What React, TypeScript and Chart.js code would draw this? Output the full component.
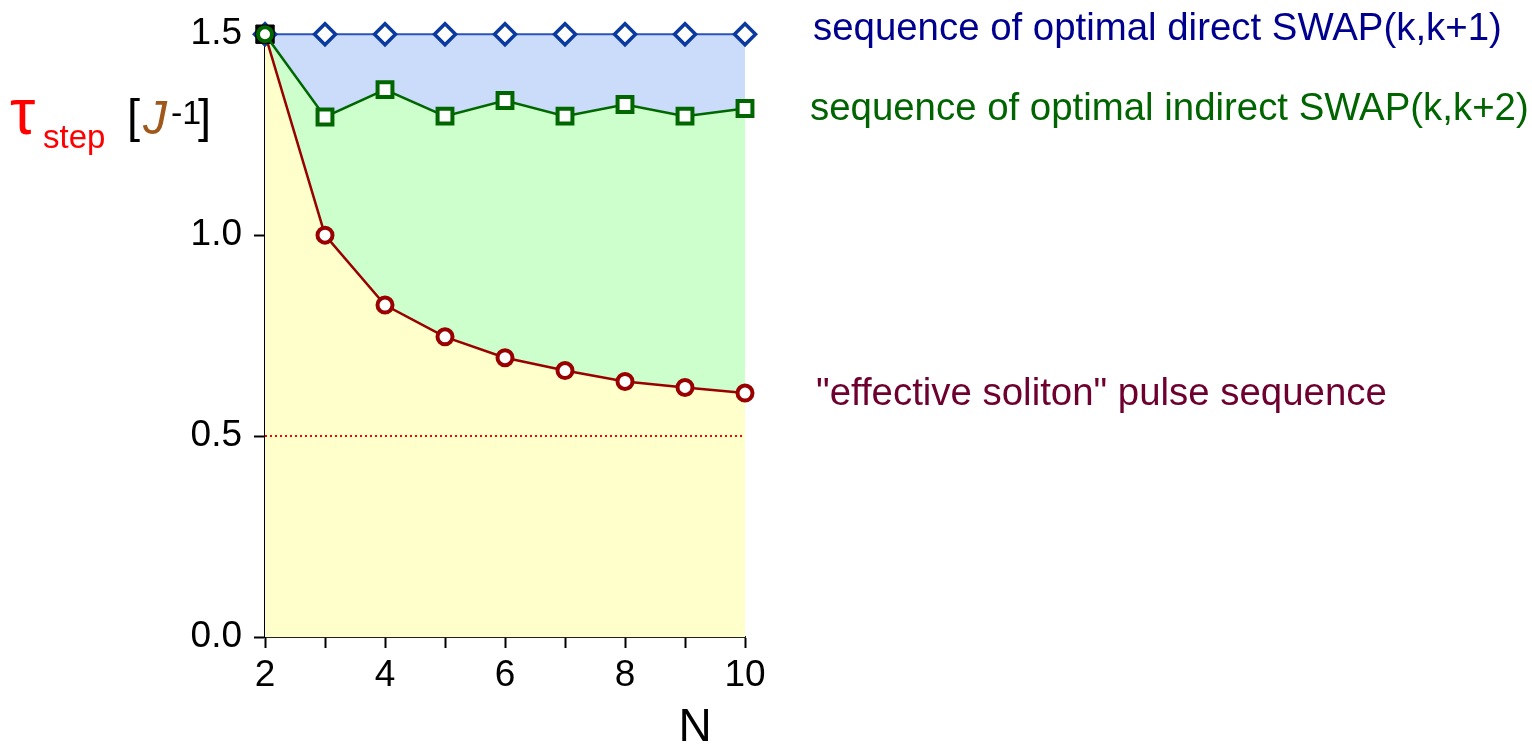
import React, { useEffect, useRef } from "react";
import { Chart, registerables } from "chart.js";

Chart.register(...registerables);

const Ns = [2, 3, 4, 5, 6, 7, 8, 9, 10];
const directSwap = [1.5, 1.5, 1.5, 1.5, 1.5, 1.5, 1.5, 1.5, 1.5];
const indirectSwap = [1.5, 1.294, 1.362, 1.296, 1.335, 1.296, 1.325, 1.296, 1.315];
const soliton = [1.5, 1.0, 0.826, 0.747, 0.695, 0.663, 0.636, 0.621, 0.607];
const limitLine = [0.5, 0.5, 0.5, 0.5, 0.5, 0.5, 0.5, 0.5, 0.5];
const yTicks = [0, 0.5, 1.0, 1.5];
const seriesLabels = [
  "sequence of optimal direct SWAP(k,k+1)",
  "sequence of optimal indirect SWAP(k,k+2)",
  "\"effective soliton\" pulse sequence",
];

const FONT = "'Liberation Sans', Arial, sans-serif";

const annotations = {
  id: "annotations",
  afterDraw(chart: any) {
    const ctx = chart.ctx;
    ctx.save();
    ctx.textBaseline = "alphabetic";
    ctx.textAlign = "left";
    // series labels
    ctx.font = `38.4px ${FONT}`;
    ctx.fillStyle = "#00008f";
    ctx.fillText(seriesLabels[0], 813, 40);
    ctx.fillStyle = "#006400";
    ctx.fillText(seriesLabels[1], 810, 120);
    ctx.fillStyle = "#6e0030";
    ctx.fillText(seriesLabels[2], 816, 405);

    // x title
    ctx.fillStyle = "#000";
    ctx.font = `46px ${FONT}`;
    ctx.textAlign = "center";
    ctx.fillText("N", 695, 741);

    // y title
    ctx.textAlign = "left";
    ctx.fillStyle = "#ff0000";
    ctx.font = `64px ${FONT}`;
    ctx.fillText("τ", 10, 134);
    ctx.font = `33px ${FONT}`;
    ctx.fillText("step", 43, 148);
    ctx.fillStyle = "#000";
    ctx.font = `47px ${FONT}`;
    ctx.fillText("[", 127, 132);
    ctx.fillStyle = "#a0581a";
    ctx.font = `italic 48px ${FONT}`;
    ctx.fillText("J", 143, 134);
    ctx.fillStyle = "#000";
    ctx.font = `34px ${FONT}`;
    ctx.fillText("-1", 171, 124);
    ctx.font = `47px ${FONT}`;
    ctx.fillText("]", 198, 132);
    ctx.restore();
  },
};

export default function App() {
  const ref = useRef<HTMLCanvasElement | null>(null);
  useEffect(() => {
    if (!ref.current) return;
    const pts = (arr: number[]) => arr.map((v, i) => ({ x: Ns[i], y: v }));
    const chart = new Chart(ref.current, {
      type: "line",
      data: {
        datasets: [
          {
            data: pts(directSwap),
            borderColor: "#2a52b8",
            borderWidth: 2,
            backgroundColor: "rgba(203,220,251,1)",
            fill: 1,
            pointStyle: "rectRot",
            pointRadius: 10.5,
            pointBorderWidth: 3.5,
            pointBorderColor: "#0a3a9e",
            pointBackgroundColor: "#ffffff",
            clip: false,
            order: 3,
          } as any,
          {
            data: pts(indirectSwap),
            borderColor: "#006600",
            borderWidth: 2.5,
            backgroundColor: "rgba(204,255,204,1)",
            fill: 2,
            pointStyle: Ns.map((_, i) => (i === 0 ? "circle" : "rect")),
            pointRadius: Ns.map((_, i) => (i === 0 ? 7 : 10.5)),
            pointBorderWidth: Ns.map((_, i) => (i === 0 ? 4 : 4)),
            pointBorderColor: "#006600",
            pointBackgroundColor: "#ffffff",
            clip: false,
            order: 1,
          } as any,
          {
            data: pts(soliton),
            borderColor: "#990000",
            borderWidth: 2.5,
            backgroundColor: "rgba(255,255,204,1)",
            fill: "origin",
            pointStyle: Ns.map((_, i) => (i === 0 ? "rect" : "circle")),
            pointRadius: Ns.map((_, i) => (i === 0 ? 13 : 7.5)),
            pointBorderWidth: Ns.map((_, i) => (i === 0 ? 1 : 4)),
            pointBorderColor: Ns.map((_, i) => (i === 0 ? "#000000" : "#990000")),
            pointBackgroundColor: Ns.map((_, i) => (i === 0 ? "#000000" : "#ffffff")),
            clip: false,
            order: 2,
          } as any,
          {
            data: pts(limitLine),
            borderColor: "#ff0000",
            borderWidth: 2,
            borderDash: [2, 3],
            pointRadius: 0,
            fill: false,
            order: 4,
          } as any,
        ],
      },
      options: {
        responsive: false,
        animation: false,
        events: [],
        layout: { padding: { left: 0, top: 32, right: 787, bottom: 0 } },
        plugins: {
          legend: { display: false },
          tooltip: { enabled: false },
          filler: { drawTime: "beforeDatasetsDraw" } as any,
        },
        scales: {
          x: {
            type: "linear",
            min: 2,
            max: 10,
            afterFit: (s: any) => {
              s.height = 109;
            },
            ticks: {
              stepSize: 1,
              autoSkip: false,
              maxRotation: 0,
              padding: 6,
              color: "#000",
              font: { family: FONT, size: 37 },
              callback: (v: any) => (Number(v) % 2 === 0 ? String(v) : ""),
            },
            grid: {
              drawOnChartArea: false,
              drawTicks: true,
              tickLength: 11,
              tickColor: "#000",
              tickWidth: 2,
            } as any,
            border: { display: true, color: "#222", width: 2 },
          },
          y: {
            type: "linear",
            min: 0,
            max: 1.5,
            afterFit: (s: any) => {
              s.width = 265;
            },
            afterBuildTicks: (s: any) => {
              s.ticks = yTicks.map((v) => ({ value: v }));
            },
            ticks: {
              padding: 12,
              color: "#000",
              font: { family: FONT, size: 37 },
              callback: (v: any) => Number(v).toFixed(1),
            },
            grid: {
              drawOnChartArea: false,
              drawTicks: true,
              tickLength: 11,
              tickColor: "#000",
              tickWidth: 2,
            } as any,
            border: { display: true, color: "#000", width: 2 },
          },
        },
      },
      plugins: [annotations],
    });
    return () => chart.destroy();
  }, []);
  return (
    <div style={{ position: "fixed", left: 0, top: 0, width: 1532, height: 746, background: "#fff" }}>
      <canvas ref={ref} width={1532} height={746} style={{ width: 1532, height: 746 }} />
    </div>
  );
}
